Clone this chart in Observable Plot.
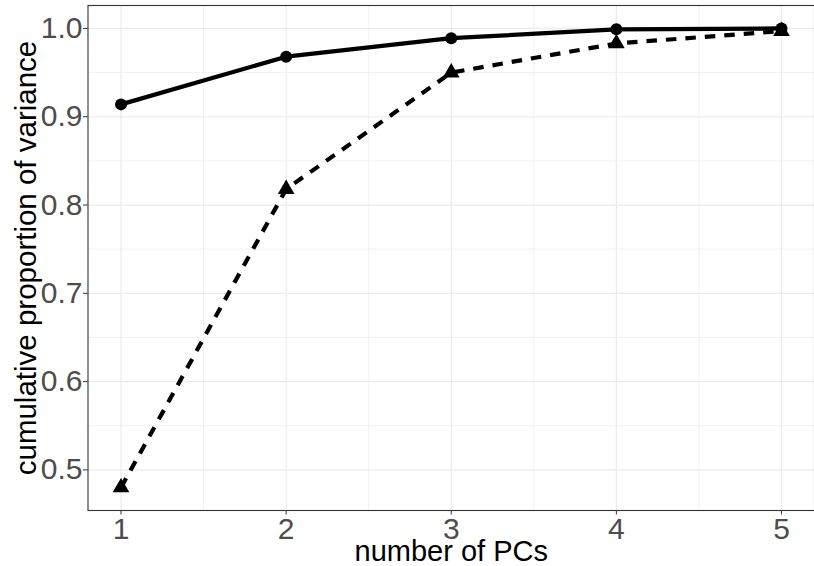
<!DOCTYPE html>
<html>
<head>
<meta charset="utf-8">
<script src="https://cdn.jsdelivr.net/npm/d3@7"></script>
<script src="https://cdn.jsdelivr.net/npm/@observablehq/plot@0.6"></script>
<style>
  html, body { margin: 0; padding: 0; background: #ffffff; }
  #chart svg { display: block; }
</style>
</head>
<body>
<div id="chart"></div>
<script>
// Data
const pcs = [1, 2, 3, 4, 5];
const cumSolid = [0.914, 0.968, 0.989, 0.999, 1.0];
const cumDashed = [0.48, 0.818, 0.950, 0.983, 0.997];

// Axis ticks
const xTicks = [1, 2, 3, 4, 5];
const xMinor = [1.5, 2.5, 3.5, 4.5];
const yTicks = [0.5, 0.6, 0.7, 0.8, 0.9, 1.0];
const yMinor = [0.55, 0.65, 0.75, 0.85, 0.95];

const xTitle = "number of PCs";
const yTitle = "cumulative proportion of variance";

const solidData = pcs.map((p, i) => ({pc: p, v: cumSolid[i]}));
const dashedData = pcs.map((p, i) => ({pc: p, v: cumDashed[i]}));

const gridColor = "#ebebeb";

const chart = Plot.plot({
  width: 814,
  height: 566,
  marginLeft: 87.5,
  marginRight: 0,
  marginTop: 5,
  marginBottom: 56,
  style: {fontFamily: "'Liberation Sans', Arial, Helvetica, sans-serif", background: "#ffffff"},
  x: {domain: [0.8, 5.2]},
  y: {domain: [0.454, 1.026]},
  marks: [
    Plot.ruleX(xMinor, {stroke: gridColor, strokeWidth: 0.7}),
    Plot.ruleY(yMinor, {stroke: gridColor, strokeWidth: 0.7}),
    Plot.ruleX(xTicks, {stroke: gridColor, strokeWidth: 1.2}),
    Plot.ruleY(yTicks, {stroke: gridColor, strokeWidth: 1.2}),
    Plot.frame({stroke: "#333333", strokeWidth: 1.1}),
    Plot.axisX(xTicks, {
      tickSize: 4.5, tickPadding: 3, fontSize: 30,
      color: "#4d4d4d", stroke: "#333333", label: null,
      tickFormat: d => String(d)
    }),
    Plot.axisY(yTicks, {
      tickSize: 4.5, tickPadding: 1, fontSize: 30,
      color: "#4d4d4d", stroke: "#333333", label: null,
      tickFormat: d => d.toFixed(1)
    }),
    Plot.line(dashedData, {x: "pc", y: "v", stroke: "black", strokeWidth: 4.2,
      strokeDasharray: "10.5,9", strokeLinecap: "butt", strokeLinejoin: "round"}),
    Plot.line(solidData, {x: "pc", y: "v", stroke: "black", strokeWidth: 4.2,
      strokeLinecap: "butt", strokeLinejoin: "round"}),
    Plot.dot(solidData, {x: "pc", y: "v", r: 6, fill: "black", stroke: "none"}),
    Plot.dot(dashedData, {x: "pc", y: "v", r: 6.2, symbol: "triangle", fill: "black", stroke: "none"}),
    Plot.text([xTitle], {frameAnchor: "bottom", lineAnchor: "bottom", textAnchor: "middle", dy: 50.5, fontSize: 29, fill: "black", text: d => d}),
    Plot.text([yTitle], {frameAnchor: "left", lineAnchor: "middle", textAnchor: "middle", dx: -61.8, rotate: -90, fontSize: 29.5, fill: "black", text: d => d})
  ]
});

document.getElementById("chart").appendChild(chart);
</script>
</body>
</html>
